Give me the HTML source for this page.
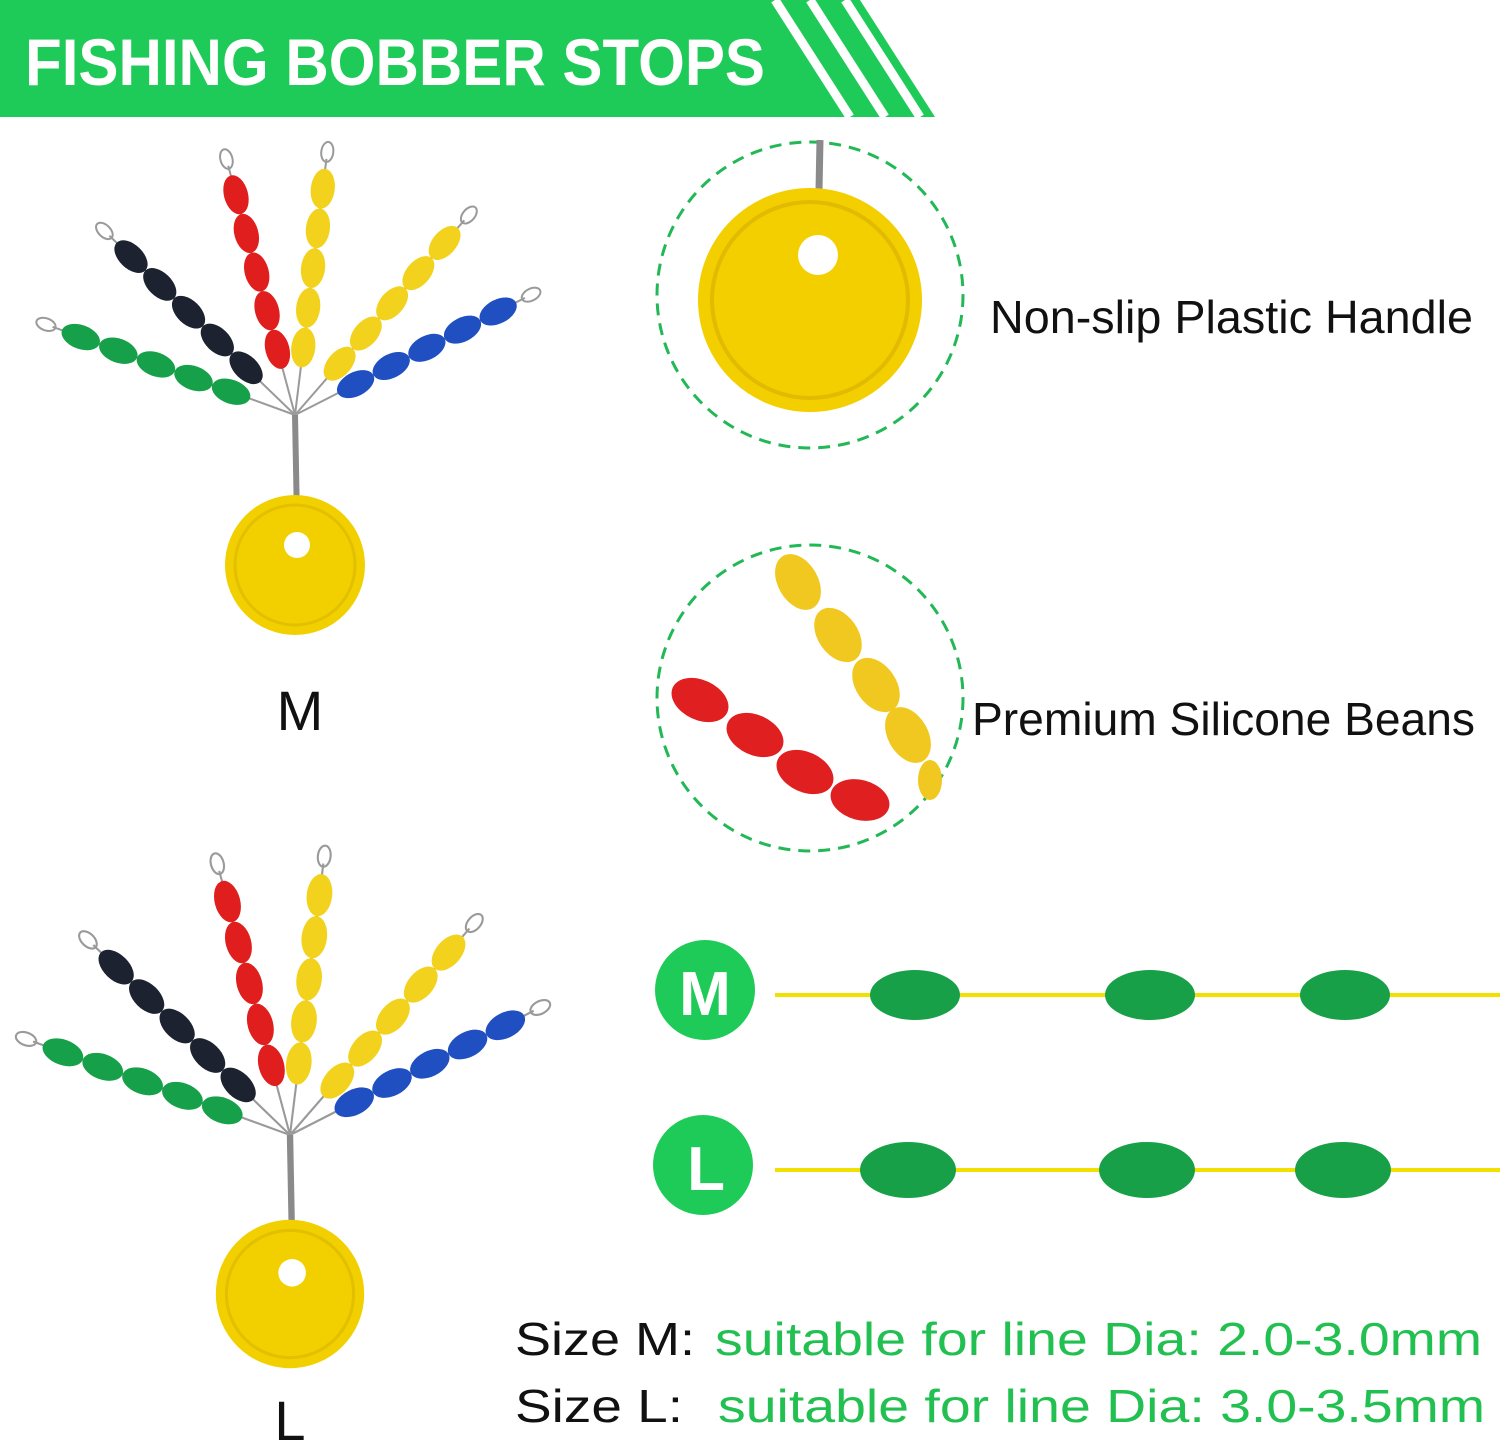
<!DOCTYPE html>
<html><head><meta charset="utf-8"><style>
html,body{margin:0;padding:0;background:#fff;}
svg{display:block;}
text{font-family:"Liberation Sans",sans-serif;}
</style></head><body>
<svg width="1500" height="1445" viewBox="0 0 1500 1445" xmlns="http://www.w3.org/2000/svg">
<defs>
<g id="chain">
<line x1="0" y1="0" x2="258" y2="0" stroke="#9a9a9a" stroke-width="2"/>
<ellipse cx="265" cy="0" rx="10" ry="6" fill="none" stroke="#9a9a9a" stroke-width="2"/>
<ellipse cx="68" cy="0" rx="20" ry="12"/>
<ellipse cx="108" cy="0" rx="20" ry="12"/>
<ellipse cx="148" cy="0" rx="20" ry="12"/>
<ellipse cx="188" cy="0" rx="20" ry="12"/>
<ellipse cx="228" cy="0" rx="20" ry="12"/>
</g>
<g id="fan">
<use href="#chain" transform="translate(295,415) rotate(200)" fill="#17a04a"/>
<use href="#chain" transform="translate(295,415) rotate(224)" fill="#1c2230"/>
<use href="#chain" transform="translate(295,415) rotate(255)" fill="#e01e1e"/>
<use href="#chain" transform="translate(295,415) rotate(277)" fill="#f2d21c"/>
<use href="#chain" transform="translate(295,415) rotate(311)" fill="#f2d21c"/>
<use href="#chain" transform="translate(295,415) rotate(333)" fill="#1f4fc0"/>
<line x1="295" y1="415" x2="297" y2="520" stroke="#8a8a8a" stroke-width="6"/>
<circle cx="295" cy="565" r="70" fill="#f2d000"/>
<circle cx="295" cy="565" r="60" fill="none" stroke="#e2c000" stroke-width="3"/>
<circle cx="297" cy="545" r="13" fill="#fff"/>
</g>
</defs>

<polygon points="0,0 860,0 935,117 0,117" fill="#1fcb58"/>
<g stroke="#fff" stroke-width="9">
<line x1="775" y1="0" x2="850" y2="117"/>
<line x1="810" y1="0" x2="885" y2="117"/>
<line x1="845" y1="0" x2="920" y2="117"/>
</g>
<text x="25" y="85" font-size="66" font-weight="bold" fill="#fff" textLength="740" lengthAdjust="spacingAndGlyphs">FISHING BOBBER STOPS</text>

<use href="#fan"/>
<g transform="translate(290,1135) scale(1.06) translate(-295,-415)"><use href="#fan"/></g>

<text x="300" y="730" font-size="56" text-anchor="middle" fill="#111">M</text>
<text x="290" y="1440" font-size="56" text-anchor="middle" fill="#111">L</text>

<circle cx="810" cy="295" r="153" fill="none" stroke="#22b855" stroke-width="3" stroke-dasharray="12,8"/>
<line x1="820" y1="140" x2="818" y2="240" stroke="#8a8a8a" stroke-width="7"/>
<circle cx="810" cy="300" r="112" fill="#f3cf00"/>
<circle cx="810" cy="300" r="98" fill="none" stroke="#e0bb00" stroke-width="4"/>
<circle cx="818" cy="255" r="20" fill="#fff"/>
<text x="990" y="333" font-size="46" fill="#111" textLength="483" lengthAdjust="spacingAndGlyphs">Non-slip Plastic Handle</text>

<circle cx="810" cy="698" r="153" fill="none" stroke="#22b855" stroke-width="3" stroke-dasharray="12,8"/>
<g fill="#f0c820">
<ellipse cx="798" cy="582" rx="20" ry="30" transform="rotate(-30 798 582)"/>
<ellipse cx="838" cy="635" rx="20" ry="30" transform="rotate(-35 838 635)"/>
<ellipse cx="876" cy="685" rx="20" ry="30" transform="rotate(-35 876 685)"/>
<ellipse cx="908" cy="735" rx="20" ry="30" transform="rotate(-30 908 735)"/>
<ellipse cx="930" cy="780" rx="12" ry="20"/>
</g>
<g fill="#e02020">
<ellipse cx="700" cy="700" rx="30" ry="20" transform="rotate(25 700 700)"/>
<ellipse cx="755" cy="735" rx="30" ry="20" transform="rotate(25 755 735)"/>
<ellipse cx="805" cy="772" rx="30" ry="20" transform="rotate(25 805 772)"/>
<ellipse cx="860" cy="800" rx="30" ry="20" transform="rotate(15 860 800)"/>
</g>
<text x="972" y="735" font-size="46" fill="#111" textLength="503" lengthAdjust="spacingAndGlyphs">Premium Silicone Beans</text>

<circle cx="705" cy="990" r="50" fill="#1fcb58"/>
<text x="705" y="1015" font-size="62" font-weight="bold" fill="#fff" text-anchor="middle">M</text>
<line x1="775" y1="995" x2="1500" y2="995" stroke="#f2e000" stroke-width="4"/>
<g fill="#18a048">
<ellipse cx="915" cy="995" rx="45" ry="25"/>
<ellipse cx="1150" cy="995" rx="45" ry="25"/>
<ellipse cx="1345" cy="995" rx="45" ry="25"/>
</g>
<circle cx="703" cy="1165" r="50" fill="#1fcb58"/>
<text x="706" y="1190" font-size="62" font-weight="bold" fill="#fff" text-anchor="middle">L</text>
<line x1="775" y1="1170" x2="1500" y2="1170" stroke="#f2e000" stroke-width="4"/>
<g fill="#18a048">
<ellipse cx="908" cy="1170" rx="48" ry="28"/>
<ellipse cx="1147" cy="1170" rx="48" ry="28"/>
<ellipse cx="1343" cy="1170" rx="48" ry="28"/>
</g>

<text x="515" y="1355" font-size="46" fill="#111" textLength="180" lengthAdjust="spacingAndGlyphs">Size M:</text>
<text x="715" y="1355" font-size="46" fill="#22c050" textLength="767" lengthAdjust="spacingAndGlyphs">suitable for line Dia: 2.0-3.0mm</text>
<text x="515" y="1422" font-size="46" fill="#111" textLength="168" lengthAdjust="spacingAndGlyphs">Size L:</text>
<text x="718" y="1422" font-size="46" fill="#22c050" textLength="767" lengthAdjust="spacingAndGlyphs">suitable for line Dia: 3.0-3.5mm</text>
</svg>
</body></html>
